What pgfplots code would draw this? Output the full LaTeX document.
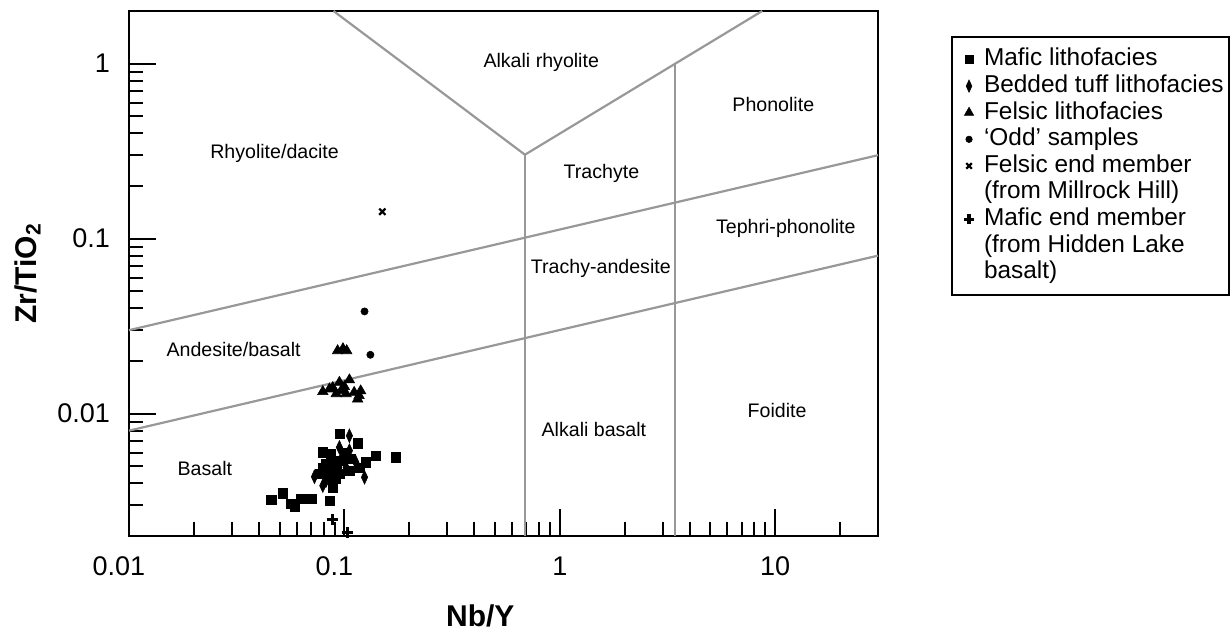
\documentclass[border=0pt]{standalone}
\usepackage{fontspec}
\setmainfont{Liberation Sans}
\usepackage{pgfplots}
\pgfplotsset{compat=1.18}
\definecolor{fieldgray}{RGB}{152,152,152}
\begin{document}
\begin{tikzpicture}
\useasboundingbox (0,0) rectangle (615pt,315pt);
\begin{axis}[
  at={(64.5pt,47pt)}, anchor=south west,
  scale only axis, width=374.5pt, height=262.5pt,
  xmode=log, ymode=log,
  xmin=0.01, xmax=30, ymin=0.002, ymax=2,
  clip=false,
  axis line style={line width=1pt, black},
  xtick={0.01,0.1,1,10}, xticklabels={0.01\hspace*{10pt},0.1\hspace*{10pt},1,10},
  ytick={0.01,0.1,1}, yticklabels={0.01,0.1,1},
  minor xtick={0.02,0.03,0.04,0.05,0.06,0.07,0.08,0.09,0.2,0.3,0.4,0.5,0.6,0.7,0.8,0.9,2,3,4,5,6,7,8,9,20},
  minor ytick={0.003,0.004,0.005,0.006,0.007,0.008,0.009,0.02,0.03,0.04,0.05,0.06,0.07,0.08,0.09,0.2,0.3,0.4,0.5,0.6,0.7,0.8,0.9},
  tick align=inside, tick pos=left,
  major tick length=13.5pt, minor tick length=7pt,
  tick style={line width=1pt, black},
  tick label style={font=\fontsize{13.5}{16}\selectfont},
  xticklabel style={yshift=-7pt},
  yticklabel style={xshift=-6pt},
  xlabel={\textbf{Nb/Y}},
  ylabel={\textbf{Zr/TiO\textsubscript{2}}},
  label style={font=\fontsize{15}{18}\selectfont},
  xlabel style={at={(axis description cs:0.469,-0.152)}, anchor=center},
  ylabel style={at={(axis description cs:-0.1355,0.5)}, anchor=center},
  legend style={
    at={(1.0975,0.952)}, anchor=north west,
    draw=black, line width=1pt,
    font=\fontsize{12.2}{13}\selectfont,
    inner xsep=2pt, inner ysep=4.5pt,
    row sep=0pt,
    nodes={inner xsep=0.8pt, inner ysep=0.8pt, text height=9pt, text depth=2.7pt},
    cells={anchor=west},
  },
  legend image code/.code={\path[draw=none, fill=none] (-6.5pt,0pt) rectangle (6.7pt,0.1pt); \draw[#1, only marks, every mark/.append style={scale=0.9}] plot coordinates {(0pt,0pt)};},
]
% field boundaries
\addplot[fieldgray, line width=1.1pt, forget plot] coordinates {(0.089,2) (0.689,0.302) (8.7,2)};
\addplot[fieldgray, line width=1.1pt, forget plot] coordinates {(0.689,0.302) (0.689,0.002)};
\addplot[fieldgray, line width=1.1pt, forget plot] coordinates {(3.44,1.0) (3.44,0.002)};
\addplot[fieldgray, line width=1.1pt, forget plot] coordinates {(0.01,0.03) (30,0.3)};
\addplot[fieldgray, line width=1.1pt, forget plot] coordinates {(0.01,0.008) (30,0.08)};

% Mafic lithofacies
\addplot[only marks, mark=square*, mark size=2.3pt, black, line width=0.3pt] coordinates {
(0.0948,0.00765) (0.1152,0.00677) (0.0794,0.00601) (0.0867,0.00589) (0.0965,0.00539)
(0.0821,0.00516) (0.0766,0.00452) (0.0852,0.00433) (0.0883,0.00379) (0.0948,0.00452)
(0.126,0.00527) (0.140,0.00575) (0.173,0.00563) (0.0458,0.00321) (0.0518,0.00351)
(0.0566,0.00307) (0.0587,0.00294) (0.0630,0.00326) (0.0702,0.00326) (0.0852,0.00319)
(0.0794,0.00493) (0.0916,0.00424) (0.1055,0.00472) (0.088,0.0054) (0.100,0.0060)
(0.092,0.0050) (0.107,0.0055) (0.118,0.0049) (0.083,0.0046)};
\addlegendentry{Mafic lithofacies}
% Bedded tuff lithofacies
\addplot[only marks, mark=diamond*, mark size=3.4pt, mark options={xscale=0.62}, black, line width=0.3pt] coordinates {
(0.1055,0.00748) (0.1055,0.00615) (0.0948,0.00642) (0.113,0.00527) (0.0726,0.00436)
(0.0794,0.00388) (0.124,0.00433) (0.0965,0.00551) (0.0883,0.00493) (0.0821,0.00414)
(0.1018,0.00493)};
\addlegendentry{Bedded tuff lithofacies}
% Felsic lithofacies
\addplot[only marks, mark=triangle*, mark size=3pt, black, line width=0.3pt] coordinates {
(0.093,0.0229) (0.0985,0.0235) (0.1025,0.0229)
(0.0794,0.01337) (0.0883,0.0141) (0.0948,0.0151) (0.1055,0.0156) (0.0965,0.01353)
(0.1018,0.0130) (0.111,0.01323) (0.117,0.01268) (0.119,0.0135) (0.0852,0.01384)
(0.100,0.01427) (0.1152,0.01213) (0.0916,0.0130)};
\addlegendentry{Felsic lithofacies}
% Odd samples
\addplot[only marks, mark=*, mark size=1.8pt, black, line width=0.3pt] coordinates {
(0.124,0.0384) (0.132,0.0217)};
\addlegendentry{`Odd' samples}
% Felsic end member
\addplot[only marks, mark=x, mark size=2.2pt, black, line width=1.1pt] coordinates {(0.150,0.1426)};
\addlegendentry{Felsic end member}
\addlegendimage{empty legend}\addlegendentry{(from Millrock Hill)}
% Mafic end member
\addplot[only marks, mark=+, mark size=2.8pt, black, line width=1.6pt] coordinates {(0.088,0.00248) (0.103,0.00209)};
\addlegendentry{Mafic end member}
\addlegendimage{empty legend}\addlegendentry{(from Hidden Lake}
\addlegendimage{empty legend}\addlegendentry{basalt)}

% field names
\begin{scope}[every node/.style={font=\fontsize{9.8}{11}\selectfont}]
\node at (axis cs:0.82,1.01) {Alkali rhyolite};
\node at (axis cs:0.0474,0.306) {Rhyolite/dacite};
\node at (axis cs:9.8,0.583) {Phonolite};
\node at (axis cs:1.56,0.235) {Trachyte};
\node at (axis cs:11.2,0.114) {Tephri-phonolite};
\node at (axis cs:1.55,0.0674) {Trachy-andesite};
\node at (axis cs:0.0306,0.0232) {Andesite/basalt};
\node at (axis cs:1.44,0.0081) {Alkali basalt};
\node at (axis cs:10.2,0.0104) {Foidite};
\node at (axis cs:0.0225,0.00485) {Basalt};
\end{scope}
\end{axis}
\end{tikzpicture}
\end{document}
